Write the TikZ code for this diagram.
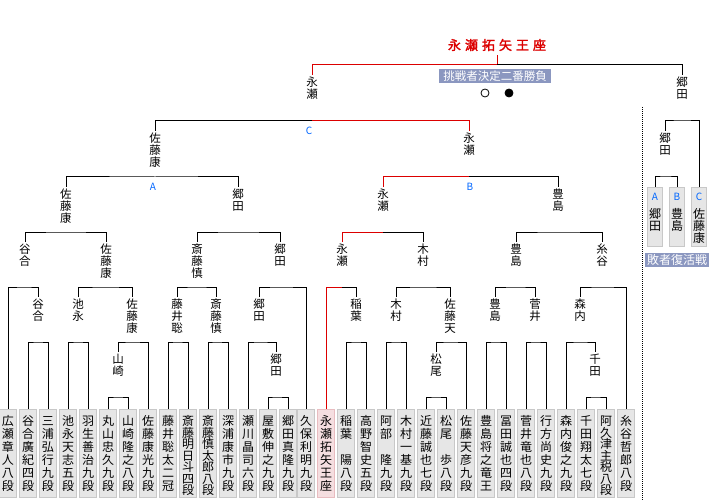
\documentclass[tikz,border=0pt]{standalone}
\usepackage{fontspec}
\setmainfont{Noto Sans CJK JP}
\newfontfamily\titlefont[FakeBold=2]{Noto Sans CJK JP}

\definecolor{winred}{RGB}{220,0,0}
\definecolor{boxfill}{RGB}{230,230,230}
\definecolor{boxline}{RGB}{200,200,200}
\definecolor{champfill}{RGB}{245,222,224}
\definecolor{champline}{RGB}{232,188,192}
\definecolor{bannerblue}{RGB}{139,151,192}
\definecolor{abc}{RGB}{0,102,255}

% vertical (tategaki) text, one character per row
\newdimen\tatepitch \tatepitch=12pt
\newcommand\pitchbox{\tatepitch 12.9pt\relax}
\newcommand\pitchlbl{\tatepitch 12pt\relax}
\makeatletter
\def\tate@end{\tate@end}
\newcommand\tate[2][\tatepitch]{\vtop{\baselineskip#1\relax\lineskiplimit-\maxdimen\tate@loop#2\tate@end}}
\def\tate@loop#1{\ifx\tate@end#1\else\hbox to 13pt{\hss#1\hss}\expandafter\tate@loop\fi}
\newcommand\haisha[2]{\vtop{\baselineskip12.5pt\relax\lineskiplimit-\maxdimen\hbox to 13pt{\hss\color{abc}\fontsize{10}{10}\selectfont#1\hss}\vskip5pt\tate@loop#2\tate@end}}
\makeatother

\tikzset{
  player/.style={draw=boxline, fill=boxfill, anchor=north, minimum width=17pt, inner sep=0pt,
    text height=16pt, text depth=72pt, font={\fontsize{12}{12}\selectfont\pitchbox}},
  champ/.style={player, draw=champline, fill=champfill},
  lbl/.style={anchor=north, inner sep=1.5pt, font={\fontsize{11.5}{12}\selectfont\pitchlbl}},
  haibox/.style={draw=boxline, fill=boxfill, anchor=north, minimum width=15pt, inner sep=0pt,
    text height=13pt, text depth=46pt, font={\fontsize{12}{12}\selectfont}},
  ribbon/.style={fill=bannerblue, text=white, inner sep=0pt, minimum height=14pt},
  abctag/.style={text=abc, inner sep=0pt, font={\fontsize{10}{10}\selectfont}},
  win/.style={winred},
}

\begin{document}
\begin{tikzpicture}[x=1pt,y=-1pt,line width=1pt]
    \useasboundingbox (0,0) rectangle (710,500);
    \fill[white] (0,0) rectangle (710,500);

    % bracket levels
    \coordinate (yT) at (0,65); \coordinate (yC) at (0,121); \coordinate (yAB) at (0,177);
    \coordinate (y3) at (0,232); \coordinate (y4) at (0,287); \coordinate (y5) at (0,342); \coordinate (y6) at (0,397);

    % players
    \node[player] (p0) at (8,409) {\tate{広瀬章人八段}};
    \node[player] (p1) at (28,409) {\tate{谷合廣紀四段}};
    \node[player] (p2) at (48,409) {\tate{三浦弘行九段}};
    \node[player] (p3) at (68,409) {\tate{池永天志五段}};
    \node[player] (p4) at (88,409) {\tate{羽生善治九段}};
    \node[player] (p5) at (108,409) {\tate{丸山忠久九段}};
    \node[player] (p6) at (128,409) {\tate{山崎隆之八段}};
    \node[player] (p7) at (148,409) {\tate{佐藤康光九段}};
    \node[player] (p8) at (168,409) {\tate{藤井聡太二冠}};
    \node[player] (p9) at (188,409) {\tate[11.5pt]{斎藤明日斗四段}};
    \node[player] (p10) at (208,409) {\tate[11.5pt]{斎藤慎太郎八段}};
    \node[player] (p11) at (228,409) {\tate{深浦康市九段}};
    \node[player] (p12) at (248,409) {\tate{瀬川晶司六段}};
    \node[player] (p13) at (268,409) {\tate{屋敷伸之九段}};
    \node[player] (p14) at (288,409) {\tate{郷田真隆九段}};
    \node[player] (p15) at (306,409) {\tate{久保利明九段}};
    \node[champ] (p16) at (326,409) {\tate{永瀬拓矢王座}};
    \node[player] (p17) at (346,409) {\tate{稲葉　陽八段}};
    \node[player] (p18) at (366,409) {\tate{高野智史五段}};
    \node[player] (p19) at (386,409) {\tate{阿部　隆九段}};
    \node[player] (p20) at (406,409) {\tate{木村一基九段}};
    \node[player] (p21) at (426,409) {\tate{近藤誠也七段}};
    \node[player] (p22) at (446,409) {\tate{松尾　歩八段}};
    \node[player] (p23) at (466,409) {\tate{佐藤天彦九段}};
    \node[player] (p24) at (486,409) {\tate{豊島将之竜王}};
    \node[player] (p25) at (506,409) {\tate{冨田誠也四段}};
    \node[player] (p26) at (526,409) {\tate{菅井竜也八段}};
    \node[player] (p27) at (546,409) {\tate{行方尚史九段}};
    \node[player] (p28) at (566,409) {\tate{森内俊之九段}};
    \node[player] (p29) at (586,409) {\tate{千田翔太七段}};
    \node[player] (p30) at (606,409) {\tate[11.5pt]{阿久津主税八段}};
    \node[player] (p31) at (626,409) {\tate{糸谷哲郎八段}};

    % winners, row by row
    \node[lbl] (yama5) at (118,352) {\tate{山崎}}; \node[lbl] (goda5) at (276,352) {\tate{郷田}};
    \node[lbl] (mats5) at (436,352) {\tate{松尾}}; \node[lbl] (chi5) at (595,352) {\tate{千田}};

    \node[lbl] (tani4) at (38,297) {\tate{谷合}}; \node[lbl] (ike4) at (78,297) {\tate{池永}};
    \node[lbl] (sato4) at (132,297) {\tate{佐藤康}}; \node[lbl] (fuji4) at (177,297) {\tate{藤井聡}};
    \node[lbl] (saito4) at (216,297) {\tate{斎藤慎}}; \node[lbl] (goda4) at (259,297) {\tate{郷田}};
    \node[lbl] (ina4) at (356,297) {\tate{稲葉}}; \node[lbl] (kimu4) at (396,297) {\tate{木村}};
    \node[lbl] (ten4) at (450,297) {\tate{佐藤天}}; \node[lbl] (toyo4) at (495,297) {\tate{豊島}};
    \node[lbl] (sug4) at (535,297) {\tate{菅井}}; \node[lbl] (mori4) at (580,297) {\tate{森内}};

    \node[lbl] (tani3) at (25,242) {\tate{谷合}}; \node[lbl] (sato3) at (106,242) {\tate{佐藤康}};
    \node[lbl] (saito3) at (197,242) {\tate{斎藤慎}}; \node[lbl] (goda3) at (280,242) {\tate{郷田}};
    \node[lbl] (naga3) at (342,242) {\tate{永瀬}}; \node[lbl] (kimu3) at (423,242) {\tate{木村}};
    \node[lbl] (toyo3) at (516,242) {\tate{豊島}}; \node[lbl] (itoy3) at (602,242) {\tate{糸谷}};

    \node[lbl] (satoA) at (66,187) {\tate{佐藤康}}; \node[lbl] (godaA) at (238,187) {\tate{郷田}};
    \node[lbl] (nagaB) at (383,187) {\tate{永瀬}}; \node[lbl] (toyoB) at (558,187) {\tate{豊島}};

    \node[lbl] (satoC) at (155,131) {\tate{佐藤康}}; \node[lbl] (nagaC) at (469,131) {\tate{永瀬}};
    \node[lbl] (godaL) at (665,131) {\tate{郷田}};

    \node[lbl] (nagaT) at (312,75) {\tate{永瀬}}; \node[lbl] (godaT) at (682,75) {\tate{郷田}};

    \node[text=winred, inner sep=3pt, font={\titlefont\fontsize{13}{13}\selectfont}] (ttl) at (497,45)
        {永\kern4pt 瀬\kern4pt 拓\kern4pt 矢\kern4pt 王\kern4pt 座};
    \node[ribbon, minimum width=112pt, font={\fontsize{11.5}{12}\selectfont}] (kettei) at (495,76) {挑戦者決定二番勝負};
    \node[circle, draw, line width=0.8pt, minimum size=8pt, inner sep=0pt] (kuro) at (485,93) {};
    \node[circle, draw, fill=black, line width=0.8pt, minimum size=8pt, inner sep=0pt] (shiro) at (509,93) {};

    \node[abctag] (tagA) at (153,187) {A}; \node[abctag] (tagB) at (470,187) {B}; \node[abctag] (tagC) at (309,131) {C};

    % loser bracket
    \node[haibox] (hA) at (655,187) {\haisha{A}{郷田}};
    \node[haibox] (hB) at (677,187) {\haisha{B}{豊島}};
    \node[haibox] (hC) at (699,187) {\haisha{C}{佐藤康}};
    \node[ribbon, minimum width=64pt, font={\fontsize{12}{12}\selectfont}] (fukkatsu) at (677,260) {敗者復活戦};
    \coordinate (sepTop) at (642,107); \coordinate (sepBot) at (642,500);
    \draw[line width=0.8pt, dash pattern=on 1pt off 1pt] (sepTop) -- (sepBot);

    \draw (p5.north) |- (yama5 |- y6) -| (p6.north);
    \draw (p13.north) |- (goda5 |- y6) -| (p14.north);
    \draw (p21.north) |- (mats5 |- y6) -| (p22.north);
    \draw (p29.north) |- (chi5 |- y6) -| (p30.north);

    \draw (p1.north) |- (tani4 |- y5) -| (p2.north);
    \draw (p3.north) |- (ike4 |- y5) -| (p4.north);
    \draw (yama5.north) |- (sato4 |- y5) -| (p7.north);
    \draw (p8.north) |- (fuji4 |- y5) -| (p9.north);
    \draw (p10.north) |- (saito4 |- y5) -| (p11.north);
    \draw (p12.north) |- (goda4 |- y5) -| (goda5.north);
    \draw (p17.north) |- (ina4 |- y5) -| (p18.north);
    \draw (p19.north) |- (kimu4 |- y5) -| (p20.north);
    \draw (mats5.north) |- (ten4 |- y5) -| (p23.north);
    \draw (p24.north) |- (toyo4 |- y5) -| (p25.north);
    \draw (p26.north) |- (sug4 |- y5) -| (p27.north);
    \draw (p28.north) |- (mori4 |- y5) -| (chi5.north);

    \draw (p0.north) |- (tani3 |- y4) -| (tani4.north);
    \draw (ike4.north) |- (sato3 |- y4) -| (sato4.north);
    \draw (fuji4.north) |- (saito3 |- y4) -| (saito4.north);
    \draw (goda4.north) |- (goda3 |- y4) -| (p15.north);
    \draw[win] (p16.north) |- (naga3 |- y4); \draw (naga3 |- y4) -| (ina4.north);
    \draw (kimu4.north) |- (kimu3 |- y4) -| (ten4.north);
    \draw (toyo4.north) |- (toyo3 |- y4) -| (sug4.north);
    \draw (mori4.north) |- (itoy3 |- y4) -| (p31.north);

    \draw (tani3.north) |- (satoA |- y3) -| (sato3.north);
    \draw (saito3.north) |- (godaA |- y3) -| (goda3.north);
    \draw[win] (naga3.north) |- (nagaB |- y3); \draw (nagaB |- y3) -| (kimu3.north);
    \draw (toyo3.north) |- (toyoB |- y3) -| (itoy3.north);

    \draw (satoA.north) |- (satoC |- yAB) -| (godaA.north);
    \draw[win] (nagaB.north) |- (nagaC |- yAB); \draw (nagaC |- yAB) -| (toyoB.north);
    \draw (hA.north) |- (godaL |- yAB) -| (hB.north);

    \draw (satoC.north) |- (nagaT |- yC); \draw[win] (nagaT |- yC) -| (nagaC.north);
    \draw (godaL.north) |- (godaT |- yC) -| (hC.north);

    \draw[win] (nagaT.north) |- (ttl |- yT) -- (ttl.south); \draw (ttl |- yT) -| (godaT.north);
\end{tikzpicture}
\end{document}
